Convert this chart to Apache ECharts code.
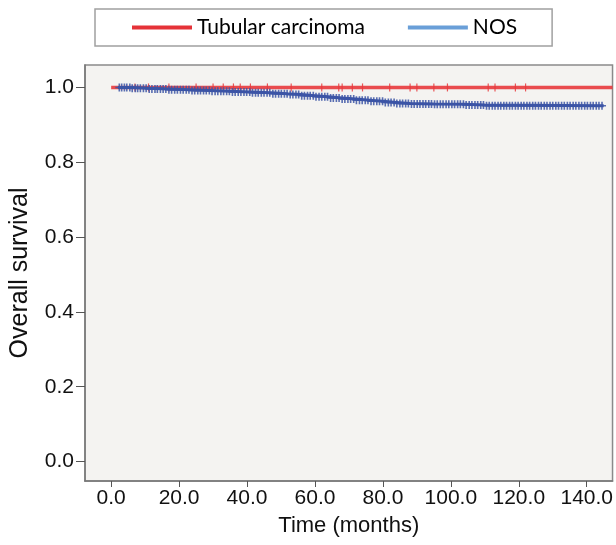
<!DOCTYPE html>
<html>
<head>
<meta charset="utf-8">
<script src="https://cdn.jsdelivr.net/npm/echarts@6/dist/echarts.min.js"></script>
<style>
html,body{margin:0;padding:0;background:#fff;}
#c{width:616px;height:545px;}
</style>
</head>
<body>
<div id="c"></div>
<script>
// ---- data ----
const seriesNames = ['Tubular carcinoma', 'NOS'];
const xTicks = [0, 20, 40, 60, 80, 100, 120, 140];
const yTicks = [0, 0.2, 0.4, 0.6, 0.8, 1.0];

// Tubular carcinoma: no events, survival stays at 1.0
const tubTime = [0, 147.6];
const tubSurv = [1.0, 1.0];
const tubCensor = [7, 11, 17, 25, 30, 33, 36, 38, 41, 46, 53, 62, 67, 68, 71, 74, 82, 88, 90, 95, 99, 111, 113, 119, 122];

// NOS: Kaplan-Meier step points
const nosTime = [2, 6, 11, 17, 23, 29, 35, 41, 47, 52, 56, 60, 64, 68, 72, 76, 80, 84, 88, 95, 104, 110, 145];
const nosSurv = [1.000, 0.998, 0.996, 0.994, 0.992, 0.990, 0.988, 0.986, 0.983, 0.981, 0.978, 0.975, 0.972, 0.969, 0.966, 0.963, 0.960, 0.957, 0.956, 0.955, 0.953, 0.951, 0.951];
const nosCensor = [2.4, 3.1, 3.9, 4.6, 5.5, 6.2, 7.1, 7.8, 8.6, 9.5, 10.3, 11.2, 12.0, 12.9, 13.6, 14.5, 15.3, 16.1, 17.0, 17.8, 18.7, 19.5, 20.4, 21.2, 22.1, 22.9, 23.8, 24.6, 25.5, 26.3, 27.2, 28.0, 28.9, 29.7, 30.6, 31.4, 32.3, 33.1, 34.0, 34.8, 35.7, 36.5, 37.4, 38.2, 39.1, 39.9, 40.8, 41.6, 42.5, 43.3, 44.2, 45.0, 45.9, 46.7, 47.6, 48.4, 49.3, 50.1, 51.0, 51.8, 52.7, 53.5, 54.4, 55.2, 56.1, 56.9, 57.8, 58.6, 59.5, 60.3, 61.2, 62.0, 62.9, 63.7, 64.6, 65.4, 66.3, 67.1, 68.0, 68.8, 69.7, 70.5, 71.4, 72.2, 73.1, 73.9, 74.8, 75.6, 76.5, 77.3, 78.2, 79.0, 79.9, 80.7, 81.6, 82.4, 83.3, 84.1, 85.0, 85.8, 86.7, 87.5, 88.4, 89.2, 90.1, 90.9, 91.8, 92.6, 93.5, 94.3, 95.2, 96.0, 96.9, 97.7, 98.6, 99.4, 100.3, 101.1, 102.0, 102.8, 103.7, 104.5, 105.4, 106.2, 107.1, 107.9, 108.8, 109.6, 110.5, 111.3, 112.2, 113.0, 113.9, 114.7, 115.6, 116.4, 117.3, 118.1, 119.0, 119.8, 120.7, 121.5, 122.4, 123.2, 124.1, 124.9, 125.8, 126.6, 127.5, 128.3, 129.2, 130.0, 130.9, 131.7, 132.6, 133.4, 134.3, 135.1, 136.0, 136.8, 137.7, 138.5, 139.4, 140.2, 141.1, 141.9, 142.8, 143.6, 144.5];

// ---- build ----
function survAt(times, surv, t) {
  let v = surv[0];
  for (let i = 0; i < times.length; i++) { if (times[i] <= t) v = surv[i]; }
  return v;
}
const zip = (a, b) => a.map((v, i) => [v, b[i]]);

const RED = '#e8383c';
const BLUE = '#3c55a6';
const plusPath = 'path://M2,0L3,0L3,2L5,2L5,3L3,3L3,5L2,5L2,3L0,3L0,2L2,2Z';
const vbarPath = 'path://M0,0L1,0L1,8L0,8Z';

const chart = echarts.init(document.getElementById('c'), null, {renderer: 'canvas'});
const labelFont = {fontFamily: 'Liberation Sans, Arial', fontSize: 21, color: '#111'};

chart.setOption({
  animation: false,
  backgroundColor: '#ffffff',
  grid: {left: 85, right: 3, top: 65, bottom: 64, show: true, backgroundColor: '#f4f3f1', borderColor: '#8a8a8a', borderWidth: 1.5},
  legend: {
    left: 95, top: 9,
    padding: [8, 35, 8, 37],
    itemGap: 43, itemWidth: 60, itemHeight: 4, icon: 'rect',
    borderColor: '#a0a0a0', borderWidth: 1.5,
    textStyle: {fontFamily: 'Lato, Open Sans', fontSize: 21, color: '#000'},
    data: [
      {name: seriesNames[0], itemStyle: {color: '#e53238'}},
      {name: seriesNames[1], itemStyle: {color: '#6a9fd8'}}
    ]
  },
  xAxis: {
    type: 'value', min: -7.7, max: 147.6,
    name: 'Time (months)', nameLocation: 'middle', nameGap: 34,
    nameTextStyle: {fontFamily: 'Liberation Sans, Arial', fontSize: 22, color: '#111'},
    axisLine: {show: true, onZero: false, lineStyle: {color: '#777', width: 1.5}},
    axisTick: {show: true, length: 6, lineStyle: {color: '#555'}, customValues: xTicks},
    axisLabel: Object.assign({customValues: xTicks, margin: 7, formatter: v => v.toFixed(1)}, labelFont),
    splitLine: {show: false}
  },
  yAxis: {
    type: 'value', min: -0.052, max: 1.06,
    name: 'Overall survival', nameLocation: 'middle', nameGap: 52,
    nameTextStyle: {fontFamily: 'Liberation Sans, Arial', fontSize: 25, color: '#111'},
    axisLine: {show: true, onZero: false, lineStyle: {color: '#777', width: 1.5}},
    axisTick: {show: true, length: 9, lineStyle: {color: '#555'}, customValues: yTicks},
    axisLabel: Object.assign({customValues: yTicks, margin: 11, formatter: v => v.toFixed(1)}, labelFont),
    splitLine: {show: false}
  },
  series: [
    {
      name: seriesNames[0], type: 'line', step: 'end', showSymbol: false, z: 3,
      data: zip(tubTime, tubSurv),
      lineStyle: {color: RED, width: 3.5, opacity: 0.9}, itemStyle: {color: RED}
    },
    {
      name: 'tubCensor', type: 'scatter', z: 4, silent: true,
      symbol: vbarPath, symbolSize: [1.2, 8],
      data: tubCensor.map(t => [t, survAt(tubTime, tubSurv, t)]),
      itemStyle: {color: RED, opacity: 0.85}
    },
    {
      name: seriesNames[1], type: 'line', step: 'end', showSymbol: false, z: 5,
      data: zip(nosTime, nosSurv),
      lineStyle: {color: BLUE, width: 3}, itemStyle: {color: BLUE}
    },
    {
      name: 'nosCensor', type: 'scatter', z: 6, silent: true,
      symbol: plusPath, symbolSize: 8,
      data: nosCensor.map(t => [t, survAt(nosTime, nosSurv, t)]),
      itemStyle: {color: BLUE, opacity: 0.85}
    }
  ]
});
</script>
</body>
</html>
